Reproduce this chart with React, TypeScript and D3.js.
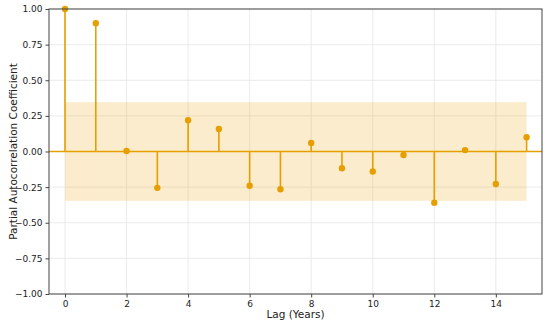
import React, { useEffect, useRef } from "react";
import * as d3 from "d3";

const lags = [0, 1, 2, 3, 4, 5, 6, 7, 8, 9, 10, 11, 12, 13, 14, 15];
const pacf = [1.0, 0.9, 0.003, -0.255, 0.22, 0.158, -0.24, -0.265, 0.06, -0.118, -0.14, -0.025, -0.36, 0.01, -0.228, 0.1];
const confBound = 0.346;
const xTicks = [0, 2, 4, 6, 8, 10, 12, 14];
const yTicks = [-1, -0.75, -0.5, -0.25, 0, 0.25, 0.5, 0.75, 1];

const PacfChart: React.FC = () => {
  const svgRef = useRef<SVGSVGElement>(null);

  useEffect(() => {
    document.body.style.margin = "0";
    const svg = d3.select(svgRef.current);
    svg.selectAll("*").remove();
    const width = 550;
    const height = 324;
    const m = { left: 49, right: 8, top: 9, bottom: 30 };
    const color = "#E69F00";
    const font = "DejaVu Sans, sans-serif";

    const x = d3.scaleLinear().domain([-0.52, 15.5]).range([m.left, width - m.right]);
    const y = d3.scaleLinear().domain([-1, 1]).range([height - m.bottom, m.top]);

    // grid
    svg
      .append("g")
      .selectAll("line")
      .data(xTicks)
      .join("line")
      .attr("x1", (d) => x(d))
      .attr("x2", (d) => x(d))
      .attr("y1", y(-1))
      .attr("y2", y(1))
      .attr("stroke", "#e6e6e6")
      .attr("stroke-width", 0.8);
    svg
      .append("g")
      .selectAll("line")
      .data(yTicks)
      .join("line")
      .attr("x1", x.range()[0])
      .attr("x2", x.range()[1])
      .attr("y1", (d) => y(d))
      .attr("y2", (d) => y(d))
      .attr("stroke", "#e6e6e6")
      .attr("stroke-width", 0.8);

    // confidence band
    svg
      .append("rect")
      .attr("x", x(lags[0]))
      .attr("width", x(lags[lags.length - 1]) - x(lags[0]))
      .attr("y", y(confBound))
      .attr("height", y(-confBound) - y(confBound))
      .attr("fill", color)
      .attr("fill-opacity", 0.2);

    // zero line
    svg
      .append("line")
      .attr("x1", x.range()[0])
      .attr("x2", x.range()[1])
      .attr("y1", y(0))
      .attr("y2", y(0))
      .attr("stroke", color)
      .attr("stroke-width", 1.3);

    // stems
    svg
      .append("g")
      .selectAll("line")
      .data(lags)
      .join("line")
      .attr("x1", (d) => x(d))
      .attr("x2", (d) => x(d))
      .attr("y1", y(0))
      .attr("y2", (d, i) => y(pacf[i]))
      .attr("stroke", color)
      .attr("stroke-width", 1.6);

    svg
      .append("g")
      .selectAll("circle")
      .data(lags)
      .join("circle")
      .attr("cx", (d) => x(d))
      .attr("cy", (d, i) => y(pacf[i]))
      .attr("r", 3.2)
      .attr("fill", color);

    // frame
    svg
      .append("rect")
      .attr("x", x.range()[0])
      .attr("y", y(1))
      .attr("width", x.range()[1] - x.range()[0])
      .attr("height", y(-1) - y(1))
      .attr("fill", "none")
      .attr("stroke", "#444")
      .attr("stroke-width", 1);

    const xAxis = svg
      .append("g")
      .attr("transform", `translate(0, ${y(-1)})`)
      .call(d3.axisBottom(x).tickValues(xTicks).tickSize(3.5).tickPadding(3).tickFormat(d3.format("d")));
    const yAxis = svg
      .append("g")
      .attr("transform", `translate(${x.range()[0]}, 0)`)
      .call(
        d3
          .axisLeft(y)
          .tickValues(yTicks)
          .tickSize(3.5)
          .tickPadding(3)
          .tickFormat((d) => d3.format(".2f")(d as number).replace("-", "\u2212"))
      );
    [xAxis, yAxis].forEach((a) => {
      a.select(".domain").remove();
      a.selectAll("line").attr("stroke", "#444");
      a.selectAll("text").attr("font-family", font).attr("font-size", 9).attr("fill", "#222");
    });

    svg
      .append("text")
      .attr("x", (x.range()[0] + x.range()[1]) / 2)
      .attr("y", 318)
      .attr("text-anchor", "middle")
      .attr("font-family", font)
      .attr("font-size", 10.5)
      .attr("fill", "#222")
      .text("Lag (Years)");

    svg
      .append("text")
      .attr("transform", `translate(17, ${(y(1) + y(-1)) / 2}) rotate(-90)`)
      .attr("text-anchor", "middle")
      .attr("font-family", font)
      .attr("font-size", 10.5)
      .attr("fill", "#222")
      .text("Partial Autocorrelation Coefficient");
  }, []);

  return <svg ref={svgRef} width={550} height={324} style={{ display: "block" }} />;
};

export default function App() {
  return <PacfChart />;
}
